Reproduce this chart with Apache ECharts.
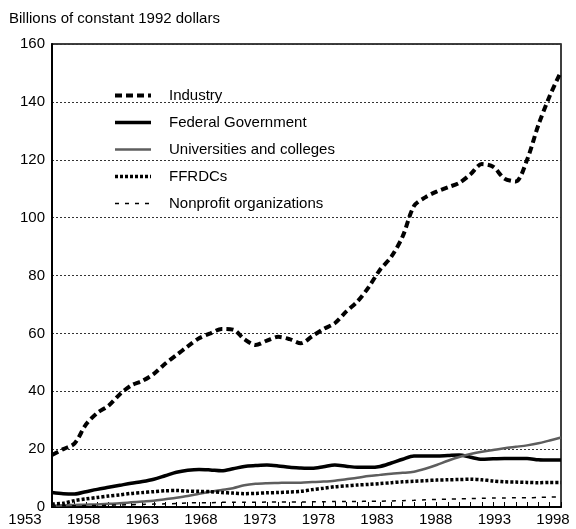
<!DOCTYPE html>
<html>
<head>
<meta charset="utf-8">
<script src="https://cdn.jsdelivr.net/npm/echarts@6/dist/echarts.min.js"></script>
<style>
  html, body { margin: 0; padding: 0; background: #fff; }
  #chart { width: 576px; height: 529px; }
</style>
</head>
<body>
<div id="chart"></div>
<script>
// years 1953..1998
var years = [];
for (var y = 1953; y <= 1998; y++) years.push(String(y));

// billions of constant 1992 dollars
var industry = [18, 20, 22, 28.5, 32.5, 35, 39, 42, 43.6, 46,
  49.5, 52.5, 55.5, 58.3, 60, 61.5, 61.3, 58, 56, 57.5,
  58.8, 58, 56.6, 59, 61.5, 63.5, 67.5, 71, 76, 82,
  86.5, 93.5, 104, 107, 109, 110.5, 112, 115, 118.5, 117.6,
  113.5, 112.5, 120, 132, 142, 150.5];
var federal = [5, 4.6, 4.5, 5.3, 6.1, 6.8, 7.5, 8.2, 8.8, 9.6,
  10.8, 12, 12.7, 13, 12.8, 12.5, 13.2, 14, 14.3, 14.5,
  14.2, 13.7, 13.5, 13.4, 13.9, 14.5, 14.1, 13.7, 13.7, 14,
  15.2, 16.5, 17.6, 17.6, 17.6, 17.8, 18, 17.2, 16.5, 16.7,
  16.8, 16.8, 16.8, 16.3, 16.2, 16.2];
var universities = [0.5, 0.6, 0.7, 0.8, 0.9, 1.1, 1.3, 1.6, 1.9, 2.2,
  2.7, 3.2, 3.8, 4.6, 5.3, 5.9, 6.5, 7.5, 8, 8.2,
  8.3, 8.4, 8.4, 8.6, 8.8, 9.1, 9.6, 10.1, 10.7, 11.1,
  11.5, 11.8, 12.2, 13.2, 14.5, 16, 17.3, 18.3, 19.1, 19.7,
  20.3, 20.8, 21.3, 22, 23, 24];
var ffrdcs = [1, 1.3, 2.2, 2.8, 3.3, 3.8, 4.2, 4.7, 5, 5.3,
  5.6, 5.7, 5.5, 5.4, 5.3, 5, 4.8, 4.6, 4.7, 4.9,
  5, 5.2, 5.4, 6, 6.5, 7, 7.3, 7.6, 7.8, 8.1,
  8.4, 8.7, 8.9, 9.1, 9.3, 9.4, 9.5, 9.6, 9.4, 9,
  8.7, 8.6, 8.5, 8.4, 8.5, 8.5];
var nonprofit = [0.3, 0.4, 0.4, 0.5, 0.5, 0.6, 0.7, 0.8, 0.9, 1,
  1.1, 1.2, 1.4, 1.5, 1.5, 1.6, 1.6, 1.6, 1.6, 1.7,
  1.7, 1.7, 1.7, 1.8, 1.8, 1.9, 1.9, 1.9, 2, 2,
  2.1, 2.2, 2.3, 2.5, 2.6, 2.7, 2.8, 2.9, 3, 3.1,
  3.1, 3.2, 3.2, 3.3, 3.4, 3.5];

var seriesNames = ['Industry', 'Federal Government', 'Universities and colleges', 'FFRDCs', 'Nonprofit organizations'];

var font = 'Liberation Sans, Arial, sans-serif';
var myChart = echarts.init(document.getElementById('chart'));

var styles = [
  { color: '#000', width: 4, type: [7, 4] },
  { color: '#000', width: 3.5, type: 'solid' },
  { color: '#5e5e5e', width: 2.5, type: 'solid' },
  { color: '#000', width: 3.5, type: [3, 2] },
  { color: '#000', width: 1.5, type: [4, 6] }
];
var seriesData = [industry, federal, universities, ffrdcs, nonprofit];

var series = seriesNames.map(function (name, i) {
  return {
    name: name,
    type: 'line',
    data: seriesData[i],
    symbol: 'none',
    smooth: 0.3,
    xAxisIndex: 0,
    yAxisIndex: 0,
    lineStyle: styles[i],
    itemStyle: { color: styles[i].color }
  };
});

var legendData = seriesNames.map(function (name, i) {
  return { name: name, lineStyle: { width: styles[i].width, type: styles[i].type, color: styles[i].color } };
});

var option = {
  backgroundColor: '#fff',
  animation: false,
  title: {
    text: 'Billions of constant 1992 dollars',
    left: 4, top: 6,
    textStyle: { color: '#000', fontSize: 15, fontWeight: 'normal', fontFamily: font }
  },
  legend: {
    orient: 'vertical',
    left: 108, top: 83,
    itemWidth: 36, itemHeight: 14, itemGap: 12,
    data: legendData,
    itemStyle: { opacity: 0 },
    textStyle: { color: '#000', fontSize: 15, fontFamily: font, padding: [0, 0, 0, 13] }
  },
  grid: [
    { left: 52, right: 15, top: 44, bottom: 22, show: true, borderColor: '#000', borderWidth: 1.5, backgroundColor: 'transparent' },
    { left: 25, right: 23, top: 44, bottom: 22 }
  ],
  xAxis: [{
    type: 'category',
    gridIndex: 0,
    data: years,
    boundaryGap: false,
    axisLine: { lineStyle: { color: '#000', width: 2 } },
    axisTick: { show: true, inside: true, length: 5, interval: 0, lineStyle: { color: '#000' } },
    axisLabel: { show: false },
    splitLine: { show: false }
  }, {
    // label-only axis, spaced like the printed year labels
    type: 'category',
    gridIndex: 1,
    data: years,
    boundaryGap: false,
    axisLine: { show: false },
    axisTick: { show: false },
    axisLabel: { interval: 4, color: '#000', fontSize: 15, fontFamily: font, margin: 5 },
    splitLine: { show: false }
  }],
  yAxis: [{
    type: 'value',
    gridIndex: 0,
    min: 0, max: 160, interval: 20,
    axisLine: { show: true, lineStyle: { color: '#000', width: 2 } },
    axisTick: { show: false },
    axisLabel: { color: '#000', fontSize: 15, fontFamily: font, margin: 7 },
    splitLine: { show: true, lineStyle: { color: '#333', type: [2, 2], width: 1 } }
  }, {
    type: 'value',
    gridIndex: 1,
    min: 0, max: 160,
    show: false
  }],
  series: series
};
myChart.setOption(option);
</script>
</body>
</html>
